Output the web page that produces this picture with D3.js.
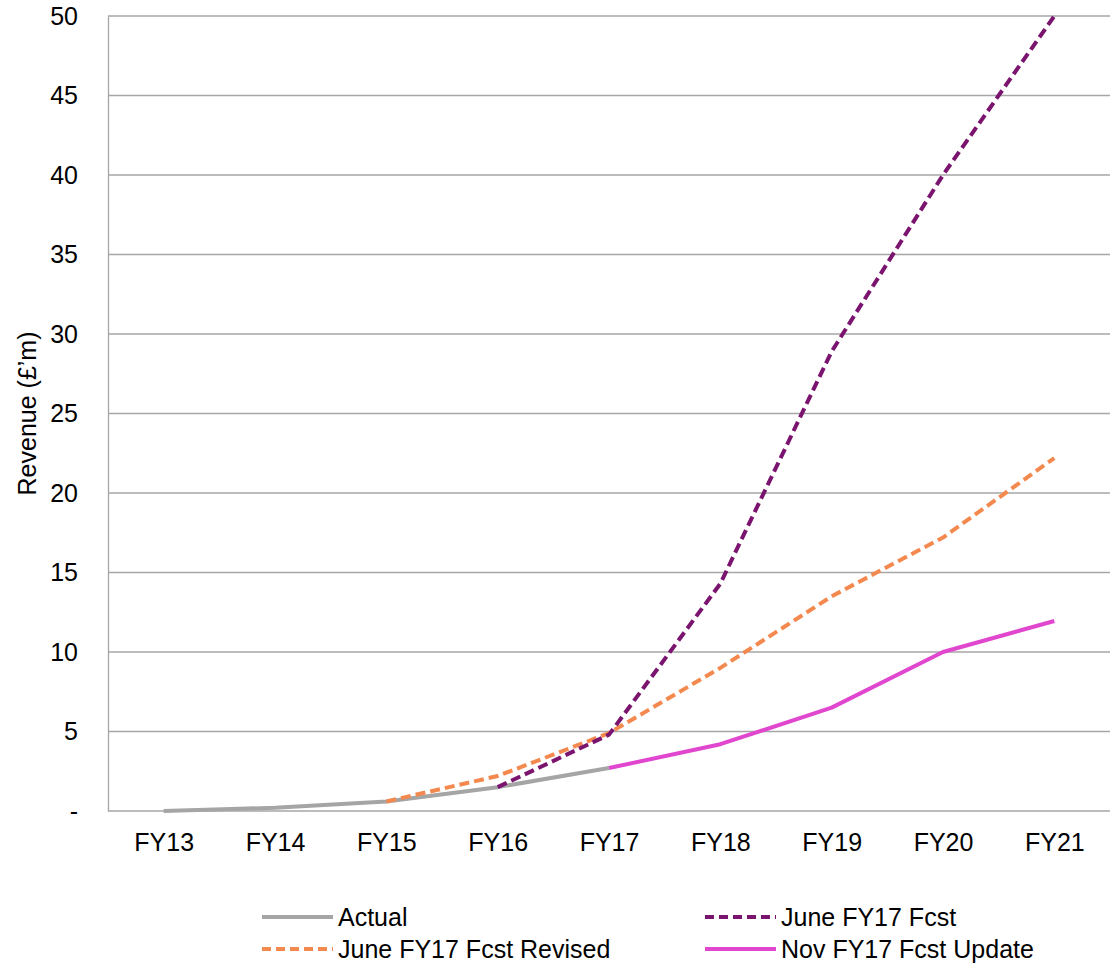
<!DOCTYPE html>
<html><head><meta charset="utf-8">
<script src="https://cdn.jsdelivr.net/npm/d3@7"></script>
<style>body{margin:0;background:#fff;} text{font-family:"Liberation Sans",Arial,sans-serif;fill:#000;}</style>
</head><body>
<svg id="c" width="1115" height="966"></svg>
<script>
const categories = ["FY13","FY14","FY15","FY16","FY17","FY18","FY19","FY20","FY21"];
const yTicks = [0,5,10,15,20,25,30,35,40,45,50];
const actual = [0, 0.2, 0.6, 1.5, 2.7, null, null, null, null];
const juneFcst = [null, null, null, 1.5, 4.8, 14.3, 28.9, 40.0, 50.0];
const juneRevised = [null, null, 0.6, 2.2, 4.9, 9.0, 13.5, 17.2, 22.2];
const novUpdate = [null, null, null, null, 2.7, 4.2, 6.5, 10.0, 11.95];
const seriesNames = ["Actual","June FY17 Fcst","June FY17 Fcst Revised","Nov FY17 Fcst Update"];

const svg = d3.select("#c");
const m = {l:108, r:5, t:16, b:155};
const W = 1115, H = 966;
const FS = "25px";
const x = d3.scalePoint().domain(categories).range([m.l, W-m.r]).padding(0.5);
const y = d3.scaleLinear().domain([0,50]).range([H-m.b, m.t]);

const gridColor = "#a6a6a6";
svg.append("g").selectAll("line").data(yTicks.filter(d=>d>0)).join("line")
  .attr("x1", m.l).attr("x2", W-m.r).attr("y1", d=>y(d)).attr("y2", d=>y(d))
  .attr("stroke", gridColor).attr("stroke-width",1.3);

const yAxis = svg.append("g").attr("transform",`translate(${m.l},0)`)
  .call(d3.axisLeft(y).tickValues(yTicks).tickSize(0).tickPadding(30).tickFormat(d=>d===0?"-":d));
yAxis.select(".domain").attr("stroke", gridColor).attr("stroke-width",1.3);
yAxis.selectAll("text").style("font-size",FS).style("font-family","Liberation Sans, Arial, sans-serif");

const xAxis = svg.append("g").attr("transform",`translate(0,${y(0)})`)
  .call(d3.axisBottom(x).tickSize(0).tickPadding(22));
xAxis.select(".domain").attr("d", `M${m.l},0H${W-m.r}`).attr("stroke", gridColor).attr("stroke-width",1.3);
xAxis.selectAll("text").style("font-size",FS).style("font-family","Liberation Sans, Arial, sans-serif");

svg.append("text").attr("transform",`translate(36,${(y(0)+y(50))/2}) rotate(-90)`)
  .attr("text-anchor","middle").style("font-size",FS).text("Revenue (£’m)");

const styles = [
  {data: actual, color:"#a5a5a5", dash:null},
  {data: juneRevised, color:"#f4894f", dash:"10,5"},
  {data: juneFcst, color:"#7a146f", dash:"10,5"},
  {data: novUpdate, color:"#e146cf", dash:null}
];
const line = d3.line().defined(d=>d.v!=null).x(d=>x(d.c)).y(d=>y(d.v));
styles.forEach(s=>{
  svg.append("path").datum(categories.map((c,i)=>({c, v:s.data[i]})))
    .attr("d", line).attr("fill","none").attr("stroke", s.color).attr("stroke-width",4)
    .attr("stroke-dasharray", s.dash).attr("stroke-linejoin","round");
});

const legend = [
  {name:seriesNames[0], color:"#a5a5a5", dash:null, lx:262, ly:917},
  {name:seriesNames[1], color:"#7a146f", dash:"9,5", lx:705, ly:917},
  {name:seriesNames[2], color:"#f4894f", dash:"9,5", lx:262, ly:949},
  {name:seriesNames[3], color:"#e146cf", dash:null, lx:705, ly:949}
];
legend.forEach(l=>{
  svg.append("line").attr("x1", l.lx).attr("x2", l.lx+71).attr("y1", l.ly).attr("y2", l.ly)
    .attr("stroke", l.color).attr("stroke-width",4).attr("stroke-dasharray", l.dash);
  svg.append("text").attr("x", l.lx+76).attr("y", l.ly+9).style("font-size",FS).text(l.name);
});
</script>
</body></html>
